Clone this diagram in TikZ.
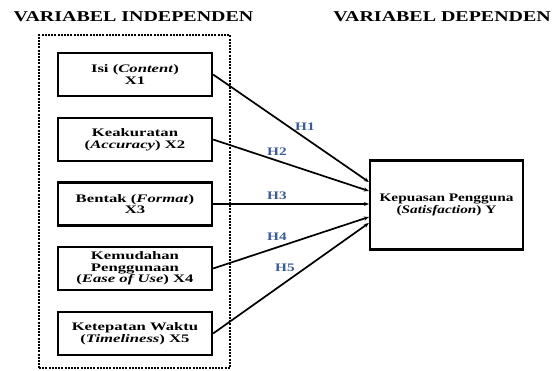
\documentclass[tikz,border=0pt]{standalone}
\usepackage{fontspec}
\setmainfont{Liberation Serif}[FakeStretch=1.33]
\newfontfamily\leftfont{Liberation Serif}[FakeStretch=1.45]
\usetikzlibrary{arrows.meta,calc}
\definecolor{hblue}{HTML}{3B5B9A}
\begin{document}
\begin{tikzpicture}[x=1pt,y=-1pt,
  varbox/.style={draw,line width=2.2pt,minimum width=154pt,minimum height=43pt,inner sep=1pt,
    align=center,font=\fontsize{11.5}{11.5}\selectfont\bfseries},
  lbox/.style={varbox,font=\leftfont\fontsize{11.5}{11.5}\selectfont\bfseries},
  ttl/.style={font=\fontsize{15}{15}\selectfont\bfseries,inner sep=0pt},
  hyp/.style={font=\fontsize{11.5}{11.5}\selectfont\bfseries,text=hblue,inner sep=0pt},
  conn/.style={line width=1.7pt,-{Stealth[length=5pt,width=4pt]}}]
\useasboundingbox (0,0) rectangle (552,370);
\node[ttl] (ti) at (133.5,17) {VARIABEL INDEPENDEN};
\node[ttl,anchor=east] (td) at (551,17) {VARIABEL DEPENDEN};
\node[draw,line width=2pt,dash pattern=on 2pt off 1.2pt,minimum width=191pt,minimum height=333pt,inner sep=0pt] (frame) at (134.5,201.5) {};
\node[lbox] (x1) at (135,74.5) {Isi (\textit{Content})\\X1};
\node[lbox] (x2) at (135,139.5) {Keakuratan\\(\textit{Accuracy}) X2};
\node[lbox] (x3) at (135,204) {Bentak (\textit{Format})\\X3};
\node[lbox] (x4) at (135,268.5) {Kemudahan\\Penggunaan\\(\textit{Ease of Use}) X4};
\node[lbox] (x5) at (135,333.5) {Ketepatan Waktu\\(\textit{Timeliness}) X5};
\node[varbox,minimum width=153pt,minimum height=89pt] (y) at (446.5,205) {Kepuasan Pengguna\\(\textit{Satisfaction}) Y};
\coordinate (e1) at ($(y.west)+(0,-23)$);
\coordinate (e2) at ($(y.west)+(0,-14)$);
\coordinate (e3) at ($(y.west)+(0,-1)$);
\coordinate (e4) at ($(y.west)+(0,12)$);
\coordinate (e5) at ($(y.west)+(0,18)$);
\draw[conn] (x1.east) -- (e1);
\draw[conn] (x2.east) -- (e2);
\draw[conn] (x3.east) -- (e3);
\draw[conn] (x4.east) -- (e4);
\draw[conn] (x5.east) -- (e5);
\node[hyp] (h1) at (305,127) {H1};
\node[hyp] (h2) at (277,152) {H2};
\node[hyp] (h3) at (277,196) {H3};
\node[hyp] (h4) at (277,237) {H4};
\node[hyp] (h5) at (285,268) {H5};
\end{tikzpicture}
\end{document}
